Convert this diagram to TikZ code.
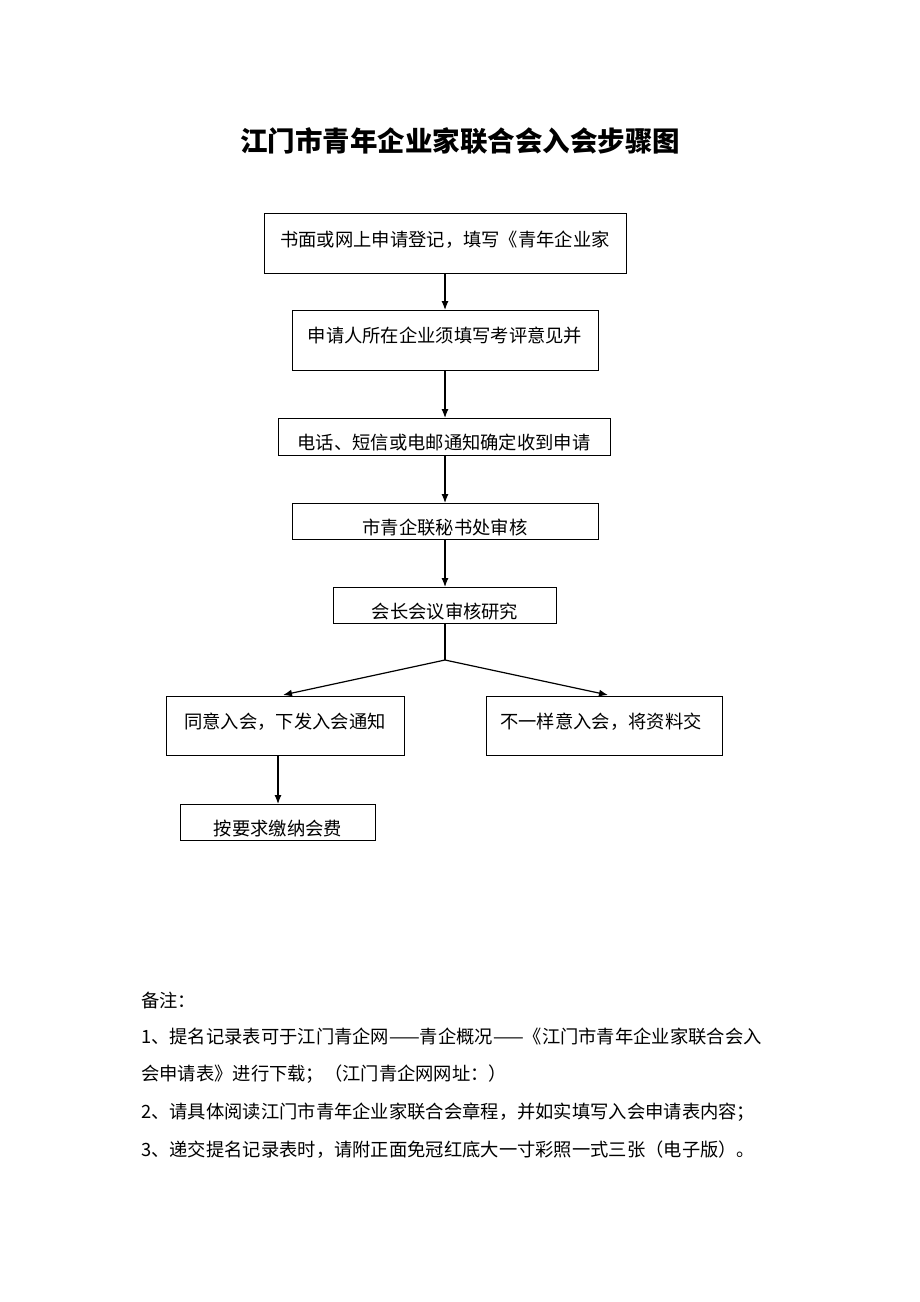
\documentclass[tikz,border=0pt]{standalone}
\usepackage{fontspec}
\setmainfont{Noto Sans CJK SC}
\usetikzlibrary{arrows.meta}
\begin{document}
\begin{tikzpicture}[x=1pt,y=-1pt,
 box/.style={draw,line width=1pt,inner sep=0pt},
 txt/.style={font=\fontsize{18.3}{21}\selectfont},
 arr/.style={-{Latex[length=9pt,width=7pt]},line width=1.2pt}]
\useasboundingbox (0,0) rectangle (920,1302);
\node[font=\bfseries\fontsize{27.5}{32}\selectfont] (title) at (460,141) {江门市青年企业家联合会入会步骤图};
\draw[box] (264,213) rectangle (626,273);
\node[txt] (t1) at (445,240) {书面或网上申请登记，填写《青年企业家};
\draw[box] (292,310) rectangle (598,370);
\node[txt] (t2) at (445,336) {申请人所在企业须填写考评意见并};
\draw[box] (278,418) rectangle (610,455);
\node[txt] (t3) at (444,443) {电话、短信或电邮通知确定收到申请};
\draw[box] (292,503) rectangle (598,539);
\node[txt] (t4) at (445,528) {市青企联秘书处审核};
\draw[box] (333,587) rectangle (556,623);
\node[txt] (t5) at (445,612) {会长会议审核研究};
\draw[box] (166,696) rectangle (404,755);
\node[txt] (t6) at (285,722) {同意入会，下发入会通知};
\draw[box] (486,696) rectangle (722,755);
\node[txt] (t7) at (601,722) {不一样意入会，将资料交};
\draw[box] (180,804) rectangle (375,840);
\node[txt] (t8) at (278,829) {按要求缴纳会费};
\coordinate (a1) at (445,273); \coordinate (a1e) at (445,310);
\coordinate (a2) at (445,370); \coordinate (a2e) at (445,418);
\coordinate (a3) at (445,455); \coordinate (a3e) at (445,503);
\coordinate (a4) at (445,539); \coordinate (a4e) at (445,587);
\coordinate (a5) at (445,623); \coordinate (s) at (445,660);
\coordinate (l) at (283,695); \coordinate (r) at (608,695);
\coordinate (a6) at (278,755); \coordinate (a6e) at (278,804);
\draw[arr] (a1)--(a1e); \draw[arr] (a2)--(a2e); \draw[arr] (a3)--(a3e);
\draw[arr] (a4)--(a4e); \draw[line width=1.2pt] (a5)--(s);
\draw[arr] (s)--(l); \draw[arr] (s)--(r); \draw[arr] (a6)--(a6e);
\begin{scope}[every node/.style={txt,anchor=west,inner sep=0pt}]
\node (n0) at (141,1000) {备注：};
\node (n1) at (141,1037) {1、提名记录表可于江门青企网——青企概况——《江门市青年企业家联合会入};
\node (n1b) at (141,1074) {会申请表》进行下载；（江门青企网网址：）};
\node (n2) at (141,1112) {2、请具体阅读江门市青年企业家联合会章程，并如实填写入会申请表内容；};
\node (n3) at (141,1150) {3、递交提名记录表时，请附正面免冠红底大一寸彩照一式三张（电子版）。};
\end{scope}
\end{tikzpicture}
\end{document}
